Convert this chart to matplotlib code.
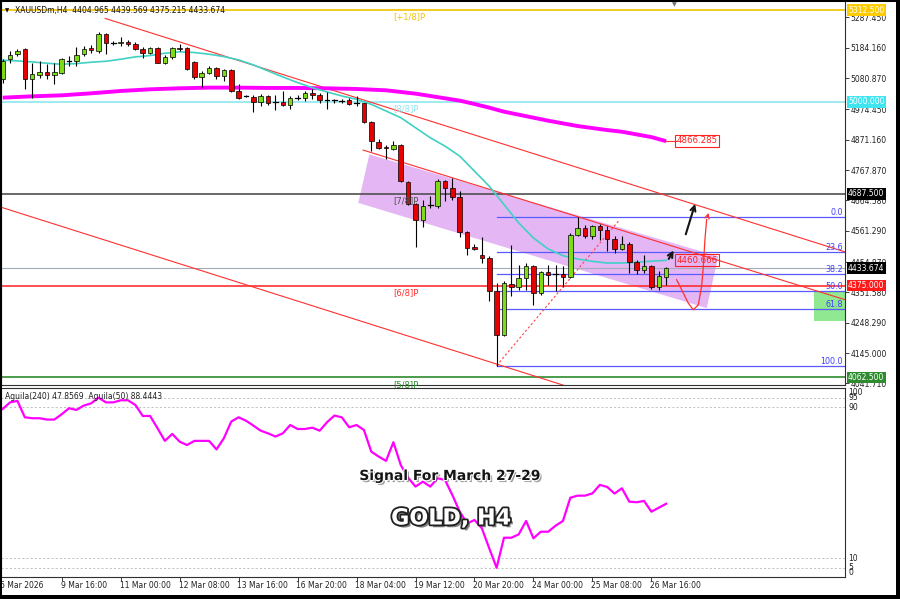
import matplotlib
matplotlib.use('Agg')
import matplotlib.pyplot as plt
import matplotlib.patheffects as pe
import matplotlib.transforms as mtransforms
from matplotlib.patches import Polygon, Rectangle, FancyArrowPatch

# ---------------- data ----------------
opens = [5077.0, 5145.2, 5162.3, 5181.6, 5077.0, 5092.9, 5102.0, 5090.7, 5099.8, 5140.7,
         5139.6, 5162.3, 5182.8, 5173.7, 5230.5, 5202.1, 5201.0, 5204.4, 5198.7, 5181.6,
         5168.0, 5185.0, 5133.9, 5154.3, 5183.9, 5182.8, 5137.3, 5086.1, 5099.8, 5116.8,
         5088.4, 5108.9, 5037.2, 5021.3, 5017.9, 4999.7, 5020.2, 4998.6, 4999.7, 4990.6,
         5014.5, 5013.3, 5029.3, 5022.4, 5006.5, 5005.4, 5004.3, 5006.5, 4996.3, 4995.2,
         4931.5, 4863.3, 4847.3, 4838.3, 4853.0, 4726.8, 4654.1, 4599.5, 4648.4, 4645.0,
         4730.2, 4707.5, 4676.8, 4556.3, 4506.2, 4480.1, 4468.7, 4355.0, 4207.2, 4380.0,
         4369.8, 4400.5, 4442.6, 4349.3, 4421.0, 4415.3, 4415.3, 4403.9, 4548.3, 4571.1,
         4544.9, 4579.0, 4565.4, 4533.5, 4499.4, 4517.6, 4453.9, 4428.9, 4440.3, 4369.8,
         4404.965]
highs = [5147.5, 5173.7, 5179.4, 5185.0, 5133.9, 5139.6, 5128.2, 5133.9, 5148.6, 5156.6,
         5188.4, 5190.7, 5193.0, 5238.5, 5236.2, 5207.8, 5219.2, 5211.2, 5204.4, 5187.3,
         5187.3, 5187.3, 5158.9, 5187.3, 5196.4, 5187.3, 5139.6, 5105.4, 5122.5, 5119.1,
         5113.4, 5113.4, 5060.0, 5024.7, 5022.4, 5025.9, 5024.7, 5022.4, 5037.2, 5020.2,
         5022.4, 5036.1, 5045.2, 5029.3, 5033.8, 5011.1, 5011.1, 5013.3, 5020.2, 4997.4,
         4933.8, 4872.4, 4851.9, 4866.7, 4855.3, 4730.2, 4656.3, 4667.7, 4679.1, 4738.2,
         4733.6, 4741.6, 4696.1, 4559.7, 4517.6, 4540.4, 4474.4, 4383.5, 4389.2, 4514.2,
         4446.0, 4451.7, 4446.0, 4423.2, 4446.0, 4446.0, 4440.3, 4554.0, 4607.4, 4582.4,
         4582.4, 4585.8, 4576.7, 4542.6, 4544.9, 4522.2, 4463.0, 4480.1, 4446.0, 4423.2,
         4439.569]
lows = [5065.7, 5133.9, 5156.6, 5045.2, 5014.5, 5082.7, 5079.3, 5060.0, 5094.1, 5122.5,
        5122.5, 5156.6, 5168.0, 5165.7, 5162.3, 5193.0, 5190.7, 5190.7, 5177.1, 5150.9,
        5162.3, 5131.6, 5128.2, 5145.2, 5173.7, 5108.9, 5079.3, 5052.0, 5094.1, 5077.0,
        5071.3, 5033.8, 5011.1, 5015.6, 4965.6, 4986.1, 4988.3, 4972.4, 4986.1, 4974.7,
        5006.5, 5003.1, 5008.8, 4995.2, 4974.7, 4997.4, 4997.4, 4988.3, 4986.1, 4926.9,
        4832.6, 4840.5, 4806.4, 4836.0, 4726.8, 4650.6, 4506.2, 4574.4, 4639.3, 4639.3,
        4662.0, 4667.7, 4540.4, 4480.1, 4497.2, 4451.7, 4320.9, 4102.6, 4203.0, 4338.0,
        4360.7, 4360.7, 4309.5, 4343.6, 4377.8, 4355.0, 4369.8, 4400.5, 4542.6, 4537.0,
        4533.5, 4531.3, 4491.5, 4485.8, 4494.9, 4417.5, 4415.3, 4417.5, 4363.0, 4358.4,
        4375.215]
closes = [5139.6, 5160.0, 5173.7, 5077.0, 5094.1, 5102.0, 5092.9, 5102.0, 5145.2, 5143.0,
          5158.9, 5181.6, 5175.9, 5230.5, 5202.1, 5199.8, 5204.4, 5198.7, 5181.6, 5168.0,
          5182.8, 5133.9, 5154.3, 5182.8, 5179.4, 5111.1, 5086.1, 5099.8, 5116.8, 5088.4,
          5108.9, 5037.2, 5014.5, 5019.0, 4999.7, 5020.2, 4997.4, 4996.3, 4990.6, 5014.5,
          5016.8, 5029.3, 5022.4, 5006.5, 5004.3, 5003.1, 5006.5, 4992.9, 4994.0, 4931.5,
          4866.7, 4843.9, 4843.9, 4853.0, 4730.2, 4654.1, 4599.5, 4647.2, 4646.1, 4730.2,
          4707.5, 4676.8, 4556.3, 4502.8, 4499.4, 4468.7, 4355.0, 4207.2, 4383.5, 4369.8,
          4400.5, 4442.6, 4349.3, 4419.8, 4411.9, 4413.0, 4403.9, 4548.3, 4571.1, 4542.6,
          4579.0, 4565.4, 4533.5, 4499.4, 4517.6, 4453.9, 4428.9, 4440.3, 4369.8, 4408.5,
          4433.674]

ma_fast_idx = list(range(0, 91, 2))
ma_fast = [5141.8, 5139.6, 5136.1, 5131.6, 5128.2, 5130.5, 5135.0, 5138.4, 5145.2, 5153.2,
           5157.7, 5165.7, 5170.3, 5168.0, 5162.3, 5154.3, 5143.0, 5125.9, 5105.4, 5085.0,
           5065.7, 5048.6, 5033.8, 5020.2, 5008.8, 4991.8, 4969.0, 4946.3, 4912.2, 4878.0,
           4849.6, 4815.5, 4764.3, 4713.2, 4650.6, 4588.1, 4537.0, 4499.4, 4476.7, 4465.3,
           4457.4, 4451.7, 4451.7, 4454.0, 4458.0, 4461.0]
ma_slow_idx = [0, 4, 8, 12, 16, 20, 24, 28, 32, 36, 40, 44, 48, 52, 56, 58, 60, 62, 64, 66,
               68, 70, 72, 74, 76, 78, 80, 82, 84, 86, 88, 90]
ma_slow = [5014.5, 5019.0, 5022.4, 5029.3, 5037.2, 5042.9, 5046.3, 5048.6, 5048.6, 5047.5,
           5047.5, 5046.3, 5044.0, 5039.5, 5028.1, 5020.2, 5012.2, 5004.3, 4992.9, 4980.4,
           4966.7, 4956.5, 4946.3, 4936.0, 4926.9, 4917.8, 4911.0, 4904.2, 4898.5, 4889.4,
           4880.3, 4866.3]

aguila = [89.1, 92.6, 93.4, 84.7, 84.2, 84.2, 83.5, 83.5, 86.3, 89.5,
          88.6, 90.9, 92.1, 95.1, 92.6, 92.6, 93.7, 93.7, 91.2, 85.4,
          85.4, 78.9, 72.2, 75.9, 71.8, 70.0, 72.2, 72.2, 72.2, 67.7,
          73.6, 82.4, 84.7, 82.9, 80.3, 77.6, 76.2, 74.5, 76.2, 80.6,
          78.5, 78.5, 79.2, 77.6, 82.1, 85.6, 84.7, 79.4, 80.6, 78.0,
          66.5, 63.9, 61.6, 71.5, 59.4, 52.7, 48.0, 50.6, 48.0, 52.4,
          51.5, 43.5, 34.7, 28.5, 30.3, 25.9, 15.3, 5.0, 20.9, 20.9,
          22.7, 29.8, 20.6, 24.1, 24.1, 27.3, 29.8, 42.1, 43.2, 43.2,
          44.4, 48.9, 47.8, 44.3, 47.1, 40.0, 39.7, 40.4, 34.7, 36.8, 38.9]
aguila_levels = [95, 90, 10, 5]

price_ticks = [5287.450, 5184.160, 5080.870, 4974.450, 4871.160, 4767.870, 4664.580,
               4561.290, 4454.870, 4351.580, 4248.290, 4145.000, 4041.710]
time_tick_idx = [8, 16, 24, 32, 40, 48, 56, 64, 72, 80, 88]
time_tick_labels = ['9 Mar 16:00', '11 Mar 00:00', '12 Mar 08:00', '13 Mar 16:00',
                    '16 Mar 20:00', '18 Mar 04:00', '19 Mar 12:00', '20 Mar 20:00',
                    '24 Mar 00:00', '25 Mar 08:00', '26 Mar 16:00']
first_date_label = '6 Mar 2026'

murrey_levels = [5312.5, 5000.0, 4687.5, 4375.0, 4062.5]
murrey_names = ['[+1/8]P', '[8/8]P', '[7/8]P', '[6/8]P', '[5/8]P']
murrey_colors = ['#f2c200', '#8fe6ee', '#505050', '#ff3030', '#2e8b2e']
bid_price = 4433.674

fib_high = 4607.4
fib_low = 4102.6
fib_start_idx = 67
fib_pcts = [0.0, 23.6, 38.2, 50.0, 61.8, 100.0]

chan_a_idx, chan_a_px = [13.9, 114.3], [5284.1, 4489.2]
chan_b_idx, chan_b_px = [48.9, 114.3], [4836.0, 4326.6]
chan_c_idx, chan_c_px = [-0.36, 76.3], [4642.7, 4034.0]
fibline_idx, fibline_px = [67.0, 83.7], [4102.6, 4599.5]

zone_idx = [49.74, 97.07, 95.5, 48.24]
zone_px = [4821.2, 4474.4, 4298.2, 4656.3]
target_idx = [110.0, 114.3]
target_px = [4256.1, 4351.6]

arrow1_idx, arrow1_px = [90.16, 91.2], [4457.4, 4502.8]
arrow2_idx, arrow2_px = [92.55, 94.04], [4540.4, 4662.0]
curve_idx = [91.42, 92.33, 93.0, 93.68, 94.36, 94.81, 95.04, 95.26, 95.49, 95.85]
curve_px = [4394.8, 4349.3, 4315.2, 4292.5, 4309.5, 4372.1, 4440.3, 4531.3, 4599.5, 4631.3]

header = 'XAUUSDm,H4  4404.965 4439.569 4375.215 4433.674'
ind_label = 'Aguila(240) 47.8569  Aguila(50) 88.4443'

# ---------------- figure ----------------
W, H = 900, 599
fig = plt.figure(figsize=(9, 5.99), dpi=100)
fig.patch.set_facecolor('white')
fx = lambda p: p / W
fy = lambda p: 1 - p / H

ax = fig.add_axes([fx(1), fy(385), fx(845) - fx(1), fy(2) - fy(385)])
axi = fig.add_axes([fx(1), fy(577.2), fx(845) - fx(1), fy(388.4) - fy(577.2)])

XMIN, XMAX = -0.23, 114.26
ax.set_xlim(XMIN, XMAX)
ax.set_ylim(4036.6, 5340.0)
axi.set_xlim(XMIN, XMAX)
axi.set_ylim(0, 100)

for a in (ax, axi):
    for s in a.spines.values():
        s.set_color('#303030')
        s.set_linewidth(0.8)
ax.spines['top'].set_visible(False)

FS = 5.5
ax.set_xticks([])
ax.yaxis.tick_right()
ax.set_yticks(price_ticks)
ax.set_yticklabels([f'{v:.3f}' for v in price_ticks])
ax.tick_params(axis='y', direction='out', length=3, width=0.6, pad=1.2,
               labelsize=FS, colors='#202020')

# zones
ax.add_patch(Polygon(list(zip(zone_idx, zone_px)), closed=True, fc='#e4b6f4', ec='none', zorder=0.5))
ax.add_patch(Rectangle((target_idx[0], target_px[0]), target_idx[1] - target_idx[0],
                       target_px[1] - target_px[0], fc='#90e890', ec='none', zorder=0.6))

# horizontal levels
for lv, col in zip(murrey_levels, murrey_colors):
    ax.axhline(lv, color=col, lw=1.2, zorder=2)
ax.axhline(bid_price, color='#a4abbd', lw=0.8, zorder=2)

# fib
rng = fib_high - fib_low
for pct in fib_pcts:
    p = fib_high - rng * pct / 100.0
    ax.plot([fib_start_idx, XMAX], [p, p], color='#5a5aff', lw=0.9, zorder=2.2)
    ax.annotate(f'{pct:.1f}', xy=(1, p), xycoords=('axes fraction', 'data'),
                xytext=(-2, 2), textcoords='offset pixels', ha='right', va='baseline',
                fontsize=5.8, color='#4040ff', zorder=8)
ax.plot(fibline_idx, fibline_px, color='#ff4040', lw=0.8, ls=(0, (2, 2)), zorder=2.3)

# channels (rays)
def ray(xs, ys, x_end):
    s = (ys[1] - ys[0]) / (xs[1] - xs[0])
    return [xs[0], x_end], [ys[0], ys[0] + s * (x_end - xs[0])]
for xs, ys in ((chan_a_idx, chan_a_px), (chan_b_idx, chan_b_px), (chan_c_idx, chan_c_px)):
    rx, ry = ray(xs, ys, XMAX + 1)
    ax.plot(rx, ry, color='#ff3030', lw=0.8, zorder=2.5)

# moving averages
ax.plot(ma_slow_idx, ma_slow, color='#ff00ff', lw=2.8, zorder=3, solid_capstyle='butt')
ax.plot(ma_fast_idx, ma_fast, color='#3fd2c4', lw=1.2, zorder=3)
ax.plot([ma_slow_idx[-1], 91.43], [ma_slow[-1], ma_slow[-1]], color='#ff3030', lw=0.8, zorder=3)

# candles
idx = list(range(len(opens)))
ax.vlines(idx, lows, highs, color='black', lw=0.8, zorder=4)
for i, (o, c) in enumerate(zip(opens, closes)):
    col = '#7edc16' if c >= o else '#e60000'
    h = abs(c - o)
    if h < 2.5:
        ax.plot([i - 0.32, i + 0.32], [o, o], color='black', lw=0.9, zorder=5)
    else:
        ax.add_patch(Rectangle((i - 0.31, min(o, c)), 0.62, h, fc=col, ec='black', lw=0.5, zorder=5))

# level labels
for lv, nm, col in zip(murrey_levels, murrey_names, murrey_colors):
    ax.annotate(nm, xy=(53.0, lv), xytext=(0, -7), textcoords='offset pixels',
                ha='left', va='center', fontsize=6, color=col, zorder=8)

# chart labels
ax.text(91.43, 4867.0, '4866.285', ha='left', va='center', fontsize=6.2, color='#ff2020',
        bbox=dict(boxstyle='square,pad=0.15', fc='none', ec='#ff2020', lw=0.8), zorder=8)
ax.text(91.43, 4461.3, '4460.666', ha='left', va='center', fontsize=6.2, color='#ff2020',
        bbox=dict(boxstyle='square,pad=0.15', fc='none', ec='#ff2020', lw=0.8), zorder=8)

# arrows
for xs, ys in ((arrow1_idx, arrow1_px), (arrow2_idx, arrow2_px)):
    ax.add_patch(FancyArrowPatch((xs[0], ys[0]), (xs[1], ys[1]), arrowstyle='->',
                                 mutation_scale=9, color='#151515', lw=1.5, zorder=9))
ax.plot(curve_idx[:-1], curve_px[:-1], color='#ff3030', lw=0.9, zorder=9)
ax.add_patch(FancyArrowPatch((curve_idx[-2], curve_px[-2]), (curve_idx[-1], curve_px[-1]),
                             arrowstyle='->', mutation_scale=8, color='#ff3030', lw=0.9, zorder=9))

# right-axis price boxes
tr = mtransforms.blended_transform_factory(ax.transAxes, ax.transData)
def pbox(price, fc):
    ax.text(1.0035, price, f'{price:.3f}', transform=tr, ha='left', va='center', fontsize=FS,
            color='white', bbox=dict(boxstyle='square,pad=0.18', fc=fc, ec='none'),
            clip_on=False, zorder=20)
pbox(5312.5, '#ffcc00')
pbox(5000.0, '#3fe6f2')
pbox(4687.5, '#000000')
pbox(bid_price, '#000000')
pbox(4375.0, '#ff1a1a')
pbox(4062.5, '#2e8b2e')

# ---------------- indicator ----------------
axi.set_yticks([])
for lv in aguila_levels:
    axi.axhline(lv, color='#b8b8b8', lw=0.6, ls=(0, (2.5, 2.5)), zorder=1)
axi.plot(range(len(aguila)), aguila, color='#ff00ff', lw=1.6, zorder=3)
axi.set_xticks(time_tick_idx)
axi.set_xticklabels([])
axi.tick_params(axis='x', direction='out', length=3, width=0.6, colors='#202020')
trx = mtransforms.blended_transform_factory(axi.transData, axi.transAxes)
for ti, tl in zip(time_tick_idx, time_tick_labels):
    axi.text(ti - 0.15, -0.046, tl, transform=trx, ha='left', va='center', fontsize=FS,
             color='#202020', clip_on=False)
axi.text(-0.42, -0.046, first_date_label, transform=trx, ha='left', va='center', fontsize=FS,
         color='#202020', clip_on=False)
tri = mtransforms.blended_transform_factory(axi.transAxes, axi.transData)
for lv, va in ((100, 'top'), (95, 'center'), (90, 'center'), (10, 'center'), (5, 'center'), (0, 'bottom')):
    axi.text(1.004, lv, str(lv), transform=tri, ha='left', va=va, fontsize=FS,
             color='#202020', clip_on=False)
axi.text(0.005, 0.955, ind_label, transform=axi.transAxes, ha='left', va='center',
         fontsize=FS, color='#202020', zorder=5)

# header
fig.text(fx(15), fy(10.8), header, ha='left', va='center', fontsize=FS, color='#101010')
fig.text(fx(7.5), fy(10.8), '\u25bc', ha='center', va='center', fontsize=4, color='#101010')
fig.text(fx(674.5), fy(4.5), '\u25bc', ha='center', va='center', fontsize=4.5, color='#707070')

# overlay titles
fig.text(fx(450), fy(476), 'Signal For March 27-29', ha='center', va='center', fontsize=10,
         fontweight='bold', color='#151515',
         path_effects=[pe.SimplePatchShadow(offset=(1.5, -1.5), shadow_rgbFace='#606060', alpha=0.6),
                       pe.Stroke(linewidth=1.6, foreground='white'), pe.Normal()])
fig.text(fx(451), fy(518.5), 'GOLD, H4', ha='center', va='center', fontsize=16,
         fontweight='bold', color='white',
         path_effects=[pe.SimplePatchShadow(offset=(2, -2), shadow_rgbFace='#303030', alpha=0.6),
                       pe.Stroke(linewidth=2.6, foreground='#202020'), pe.Normal()])

# frame
fig.add_artist(Rectangle((0, 0), 1, 1, transform=fig.transFigure, fill=False, ec='black', lw=2.2))
fig.add_artist(Rectangle((0, 0), 1, fy(595), transform=fig.transFigure, fc='black', ec='none'))
fig.add_artist(Rectangle((fx(895.5), 0), 1, 1, transform=fig.transFigure, fc='black', ec='none'))

fig.savefig('out.png', dpi=100)
